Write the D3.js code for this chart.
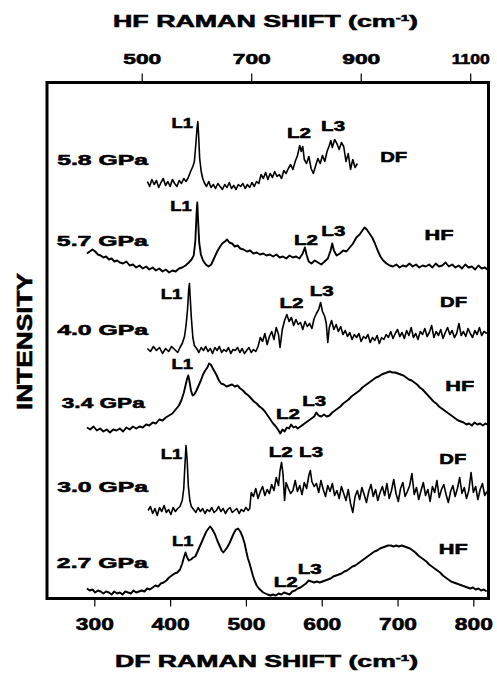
<!DOCTYPE html>
<html><head><meta charset="utf-8">
<script src="https://cdn.jsdelivr.net/npm/d3@7"></script>
<style>
body{margin:0;background:#fff;}
svg text{font-family:"Liberation Sans", Arial, Helvetica, sans-serif;font-weight:bold;fill:#000;stroke:#000;stroke-width:0.55px;}
</style></head><body>
<svg id="chart" width="497" height="673"></svg>
<script>
// Axis ticks (cm-1)
const dfTicks = [300, 400, 500, 600, 700, 800];
const hfTicks = [500, 700, 900, 1100];

// Spectrum names, excitation branch and vertical stacking offsets
const pressures = ["5.8 GPa", "5.7 GPa", "4.0 GPa", "3.4 GPa", "3.0 GPa", "2.7 GPa"];
const modes = ["DF", "HF", "DF", "HF", "DF", "HF"];
const offsets = [415, 328, 249, 168, 88, 5];

// Spectra: [Raman shift (cm-1), intensity (arb.)]
const df58 = [[370,2],[373,-3],[376,4],[379,-1],[382,3],[385,-4],[388,1],[391,5],[394,-2],[397,2],[400,-3],[403,4],[406,0],[409,-3],[412,3],[415,0],[418,5],[421,2],[424,6],[427,12],[430,17],[432,22],[434,40],[435.5,55],[436.5,62],[437.5,50],[439,25],[441,12],[443,5],[445,1],[448,-3],[451,2],[454,-4],[457,-1],[460,-5],[463,0],[466,-3],[469,-6],[472,-1],[475,-4],[478,1],[481,-5],[484,-2],[487,-6],[490,-1],[493,-3],[496,0],[499,-5],[502,-1],[505,-4],[508,1],[511,-3],[514,2],[517,0],[520,9],[523,5],[526,11],[529,4],[532,10],[535,6],[538,12],[541,7],[544,9],[547,5],[550,13],[553,10],[556,15],[559,19],[562,14],[565,22],[568,28],[571,38],[573,32],[575,37],[577,24],[580,20],[583,27],[586,15],[589,10],[592,18],[595,25],[598,20],[601,28],[604,22],[607,32],[610,38],[612,43],[614,36],[617,44],[620,40],[623,34],[626,41],[629,37],[632,22],[635,30],[638,14],[641,24],[644,16],[647,20]];

const hf57 = [[400,17],[405,19],[410,21],[415,19],[420,16],[425,15],[430,13],[435,14],[440,11],[445,12],[450,9],[455,10],[460,8],[466,7],[472,9],[478,5],[484,6],[490,3],[496,5],[502,2],[508,4],[514,1],[520,3],[526,0],[532,2],[538,-1],[544,1],[550,-2],[556,0],[562,-1],[568,2],[574,3],[580,5],[586,8],[591,11],[595,15],[598,30],[600,55],[601.5,68],[603,50],[605,28],[608,16],[612,10],[617,6],[622,4],[627,6],[632,12],[637,18],[642,23],[647,27],[652,29],[656,31],[660,28],[665,27],[670,24],[675,25],[680,22],[686,21],[692,19],[698,20],[704,17],[710,18],[716,16],[722,17],[728,15],[734,16],[740,14],[746,16],[752,13],[758,14],[764,12],[770,15],[776,13],[782,14],[788,12],[794,17],[798,23],[801,16],[805,9],[810,7],[816,10],[822,8],[828,6],[834,9],[840,12],[845,20],[848,27],[851,20],[856,15],[862,17],[868,20],[874,19],[880,23],[886,27],[892,33],[898,36],[903,40],[907,43],[911,41],[916,37],[921,33],[926,27],[931,20],[936,14],[941,10],[947,7],[953,5],[959,4],[965,6],[971,3],[977,5],[983,4],[989,7],[995,4],[1001,6],[1007,3],[1013,5],[1019,4],[1025,6],[1031,3],[1037,7],[1043,4],[1049,5],[1055,8],[1061,4],[1067,6],[1073,3],[1079,5],[1085,2],[1091,6],[1097,3],[1103,4],[1109,1],[1115,5],[1121,2],[1127,3],[1131,1]];

const df40 = [[370,1],[374,-2],[378,3],[382,-1],[386,2],[390,-4],[394,1],[398,-2],[402,3],[406,0],[410,-3],[413,2],[416,6],[419,13],[421,24],[423,40],[424.5,60],[425.5,66],[426.5,52],[428,32],[430,12],[432,4],[435,1],[438,-3],[441,2],[444,-1],[447,3],[450,-2],[453,1],[456,-4],[459,2],[462,-1],[465,3],[468,-3],[471,0],[474,-2],[477,2],[480,-4],[483,0],[486,-1],[489,2],[492,-3],[495,1],[498,-4],[501,-1],[504,2],[507,-3],[510,0],[513,-2],[516,3],[519,12],[522,8],[525,16],[528,5],[531,13],[534,18],[537,10],[540,22],[543,15],[545,2],[548,20],[551,29],[554,35],[557,28],[560,32],[563,24],[566,30],[569,25],[572,27],[575,20],[578,28],[581,23],[584,26],[587,21],[590,31],[593,36],[596,40],[598.5,47],[601,38],[604,33],[606,26],[608,7],[610,22],[613,29],[616,20],[619,25],[622,18],[625,23],[628,15],[631,19],[634,13],[637,17],[640,10],[643,15],[646,12],[649,16],[652,8],[655,13],[658,11],[661,15],[664,7],[667,12],[670,9],[673,14],[676,6],[679,12],[682,10],[685,15],[688,12],[691,18],[694,11],[697,16],[700,20],[703,13],[706,17],[709,11],[712,19],[715,14],[718,22],[721,12],[724,16],[727,10],[730,18],[733,15],[736,21],[739,13],[742,17],[745,24],[748,12],[751,18],[754,14],[757,20],[760,11],[763,17],[766,22],[769,15],[772,19],[775,12],[778,16],[781,26],[784,14],[787,18],[790,13],[793,21],[796,16],[799,12],[802,19],[805,15],[808,22],[811,14],[814,18],[818,16]];

const hf34 = [[400,3],[406,1],[412,4],[418,0],[424,2],[430,-1],[436,1],[442,-2],[448,1],[454,0],[460,2],[466,-1],[472,3],[478,1],[484,4],[490,2],[496,4],[502,3],[508,6],[514,5],[520,8],[526,7],[532,11],[538,10],[544,13],[550,15],[556,17],[562,21],[568,25],[573,31],[577,38],[580,45],[583,52],[585,55],[587,50],[590,40],[593,35],[596,36],[600,40],[604,45],[608,50],[612,56],[616,60],[620,63],[623,67],[626,66],[629,63],[633,59],[637,55],[641,50],[645,47],[650,46],[655,44],[660,45],[665,46],[670,44],[675,45],[680,42],[685,40],[690,37],[695,35],[700,32],[705,29],[710,27],[715,24],[720,22],[725,19],[730,15],[735,11],[740,7],[745,4],[750,0],[753,-3],[757,1],[761,-1],[765,3],[769,2],[773,6],[777,3],[781,4],[785,2],[790,4],[795,6],[800,8],[805,10],[810,12],[815,14],[819,18],[823,15],[828,14],[833,16],[838,14],[843,15],[848,18],[853,20],[858,22],[863,24],[868,27],[873,29],[878,31],[883,34],[888,36],[893,38],[898,40],[903,43],[908,45],[913,47],[918,49],[923,51],[928,53],[933,54],[938,56],[943,57],[948,58],[953,59],[958,58],[963,58],[968,57],[973,56],[978,55],[983,53],[988,51],[993,50],[998,48],[1003,46],[1008,43],[1013,41],[1018,38],[1023,35],[1028,32],[1033,29],[1038,27],[1043,24],[1048,22],[1053,20],[1058,18],[1063,16],[1068,14],[1073,12],[1078,10],[1083,9],[1088,8],[1093,6],[1098,7],[1103,5],[1108,8],[1113,6],[1118,7],[1123,5],[1128,7],[1131,6]];

const df30 = [[371,0],[374,4],[377,-3],[380,2],[383,-5],[386,3],[389,-1],[392,5],[395,-2],[398,1],[401,-4],[404,3],[407,-1],[410,2],[413,4],[416,10],[418,22],[419.5,45],[421,65],[422.5,50],[424,25],[426,10],[428,4],[431,1],[434,-2],[437,3],[440,-1],[443,2],[446,-3],[449,1],[452,-1],[455,3],[458,-2],[461,0],[464,4],[467,-1],[470,2],[473,-3],[476,1],[479,3],[482,-2],[485,0],[488,2],[491,-3],[494,1],[497,-1],[500,3],[503,0],[505,2],[507,18],[510,14],[513,22],[516,12],[519,19],[522,24],[525,15],[528,21],[531,17],[534,26],[537,20],[540,33],[543,25],[545,40],[547,48],[549,36],[551,10],[553,28],[556,22],[559,17],[562,20],[565,30],[568,19],[571,25],[574,16],[577,28],[580,22],[583,35],[585,40],[587,29],[590,24],[593,27],[596,18],[599,30],[602,21],[605,14],[608,25],[611,19],[614,27],[617,15],[620,20],[623,12],[626,24],[629,17],[632,10],[635,21],[638,7],[641,-2],[644,14],[647,20],[650,11],[653,23],[656,16],[659,8],[662,19],[665,26],[668,14],[671,21],[674,10],[677,18],[680,24],[683,15],[686,27],[689,12],[692,20],[695,31],[698,17],[701,9],[704,22],[707,28],[710,14],[713,19],[716,25],[719,37],[722,16],[725,23],[728,11],[731,20],[734,28],[737,15],[740,21],[743,9],[746,24],[749,18],[752,30],[755,13],[758,21],[761,26],[764,16],[767,8],[770,19],[773,25],[776,14],[779,22],[782,33],[785,17],[788,23],[791,12],[794,20],[797,38],[800,18],[803,24],[806,11],[809,21],[812,27],[815,15],[818,19]];

const hf27 = [[400,5],[405,3],[410,4],[415,1],[420,3],[425,2],[430,0],[435,2],[440,1],[445,-1],[450,2],[455,0],[460,1],[465,-1],[470,2],[475,1],[480,0],[485,3],[490,1],[495,2],[500,3],[505,2],[510,5],[515,4],[520,6],[525,8],[530,7],[535,10],[540,11],[545,13],[550,16],[555,18],[560,20],[565,21],[570,24],[574,30],[577,36],[580,41],[583,36],[586,33],[590,34],[594,36],[598,37],[602,42],[606,47],[610,52],[614,57],[618,62],[622,65],[625,67],[628,65],[631,62],[634,59],[638,53],[642,48],[646,43],[649,41],[652,43],[656,46],[660,50],[664,55],[668,60],[672,64],[676,65],[680,62],[684,57],[688,50],[691,42],[694,35],[697,30],[700,24],[703,18],[706,13],[710,8],[714,5],[718,3],[722,1],[726,0],[730,-1],[735,-2],[740,-1],[745,-2],[750,0],[755,-1],[760,1],[765,0],[770,-1],[775,2],[780,3],[785,5],[790,6],[795,8],[800,10],[805,13],[810,12],[815,11],[820,12],[825,11],[830,12],[835,13],[840,14],[845,15],[850,17],[855,18],[860,19],[865,20],[870,22],[875,23],[880,25],[885,27],[890,28],[895,30],[900,32],[905,34],[910,36],[915,38],[920,40],[925,42],[930,43],[935,45],[940,46],[945,47],[950,48],[955,48],[960,47],[965,48],[970,47],[975,48],[980,47],[985,46],[990,45],[995,43],[1000,41],[1005,38],[1010,36],[1015,34],[1020,32],[1025,29],[1030,27],[1035,25],[1040,23],[1045,21],[1050,18],[1055,16],[1060,14],[1065,12],[1070,11],[1075,10],[1080,9],[1085,8],[1090,7],[1095,6],[1100,5],[1105,6],[1110,4],[1115,5],[1120,3],[1125,4],[1130,2]];

const spectra = [df58, hf57, df40, hf34, df30, hf27];

// Mode assignments (L1-L3) and pressure/branch tags, in each spectrum's own
// shift units and intensity relative to its baseline
const tags = [
  [["L1",416,56],["L2",570,46],["L3",615,53],["DF",695,22],["5.8 GPa",251,19]],
  [["L1",572,60],["L2",800,26],["L3",850,35],["HF",1043,31],["5.7 GPa",345,25]],
  [["L1",402,51],["L2",560,42],["L3",600,54],["DF",774,43],["4.0 GPa",251,15]],
  [["L1",574,62],["L2",767,12],["L3",815,25],["HF",1081,40],["3.4 GPa",354,23]],
  [["L1",402,52],["L2",546,54],["L3",586,54],["DF",773,47],["3.0 GPa",251,19]],
  [["L1",575,48],["L2",763,7],["L3",807,20],["HF",1069,40],["2.7 GPa",345,26]]
];

const svg = d3.select("#chart");
const plotLeft = 47, plotRight = 488.5, plotTop = 82.5, plotBottom = 598.5;

const xDF = d3.scaleLinear().domain([237.6, 820]).range([plotLeft, plotRight]);
const xHF = d3.scaleLinear().domain([327, 1133.4]).range([plotLeft, plotRight]);
const y = d3.scaleLinear().domain([0, 516]).range([plotBottom, plotTop]);

// Spectra
spectra.forEach((pts, i) => {
  const xs = modes[i] === "DF" ? xDF : xHF;
  const line = d3.line().x(d => xs(d[0])).y(d => y(offsets[i] + d[1]));
  svg.append("path")
    .attr("d", line(pts))
    .attr("fill", "none")
    .attr("stroke", "#000")
    .attr("stroke-width", modes[i] === "DF" ? 1.6 : 1.9)
    .attr("stroke-linejoin", "round");
});

// Labels on each spectrum
const widths = {"L1": 21.5, "L2": 24, "L3": 24, "DF": 27, "HF": 29};
tags.forEach((list, i) => {
  const xs = modes[i] === "DF" ? xDF : xHF;
  list.forEach(([t, sx, iy]) => {
    const isP = t.endsWith("GPa");
    const w = isP ? (t === "3.4 GPa" ? 83 : 91) : widths[t];
    const x0 = isP ? xs(sx) : xs(sx) - w / 2;
    svg.append("text")
      .attr("x", x0)
      .attr("y", y(offsets[i] + iy))
      .attr("font-size", 15)
      .attr("textLength", w)
      .attr("lengthAdjust", "spacingAndGlyphs")
      .text(t);
  });
});

// Frame
svg.append("rect")
  .attr("x", plotLeft).attr("y", plotTop)
  .attr("width", plotRight - plotLeft).attr("height", plotBottom - plotTop)
  .attr("fill", "none").attr("stroke", "#000").attr("stroke-width", 3);

// Bottom axis (DF)
const gB = svg.append("g").attr("transform", `translate(0,${plotBottom})`)
  .call(d3.axisBottom(xDF).tickValues(dfTicks).tickFormat(d3.format("d"))
    .tickSize(8).tickSizeOuter(0));
gB.select(".domain").remove();
gB.selectAll(".tick line").attr("stroke-width", 1.2);
gB.selectAll(".tick text")
  .attr("y", 31.5).attr("dy", null)
  .attr("font-size", 16)
  .attr("textLength", 38).attr("lengthAdjust", "spacingAndGlyphs");

// Top axis (HF)
const gT = svg.append("g").attr("transform", `translate(0,${plotTop})`)
  .call(d3.axisTop(xHF).tickValues(hfTicks).tickFormat(d3.format("d"))
    .tickSize(9).tickSizeOuter(0));
gT.select(".domain").remove();
gT.selectAll(".tick line").attr("stroke-width", 1.2);
gT.selectAll(".tick text")
  .attr("y", -19).attr("dy", null)
  .attr("font-size", 14)
  .attr("textLength", 38).attr("lengthAdjust", "spacingAndGlyphs");
[gB, gT].forEach(g => g.attr("font-family", null).attr("font-size", null));

// Axis titles
function title(txt, cx, by, w) {
  const t = svg.append("text")
    .attr("x", cx - w / 2).attr("y", by)
    .attr("font-size", 16)
    .attr("textLength", w).attr("lengthAdjust", "spacingAndGlyphs");
  t.append("tspan").text(txt + " (cm");
  t.append("tspan").attr("dy", -6).attr("font-size", 9).text("-1");
  t.append("tspan").attr("dy", 6).text(")");
}
title("HF RAMAN SHIFT", 265.5, 26.5, 305);
title("DF RAMAN SHIFT", 266.5, 667, 303);

svg.append("text")
  .attr("transform", "translate(31.5,341.5) rotate(-90)")
  .attr("x", -68.5)
  .attr("font-size", 22)
  .attr("textLength", 137).attr("lengthAdjust", "spacingAndGlyphs")
  .text("INTENSITY");
</script>
</body></html>
